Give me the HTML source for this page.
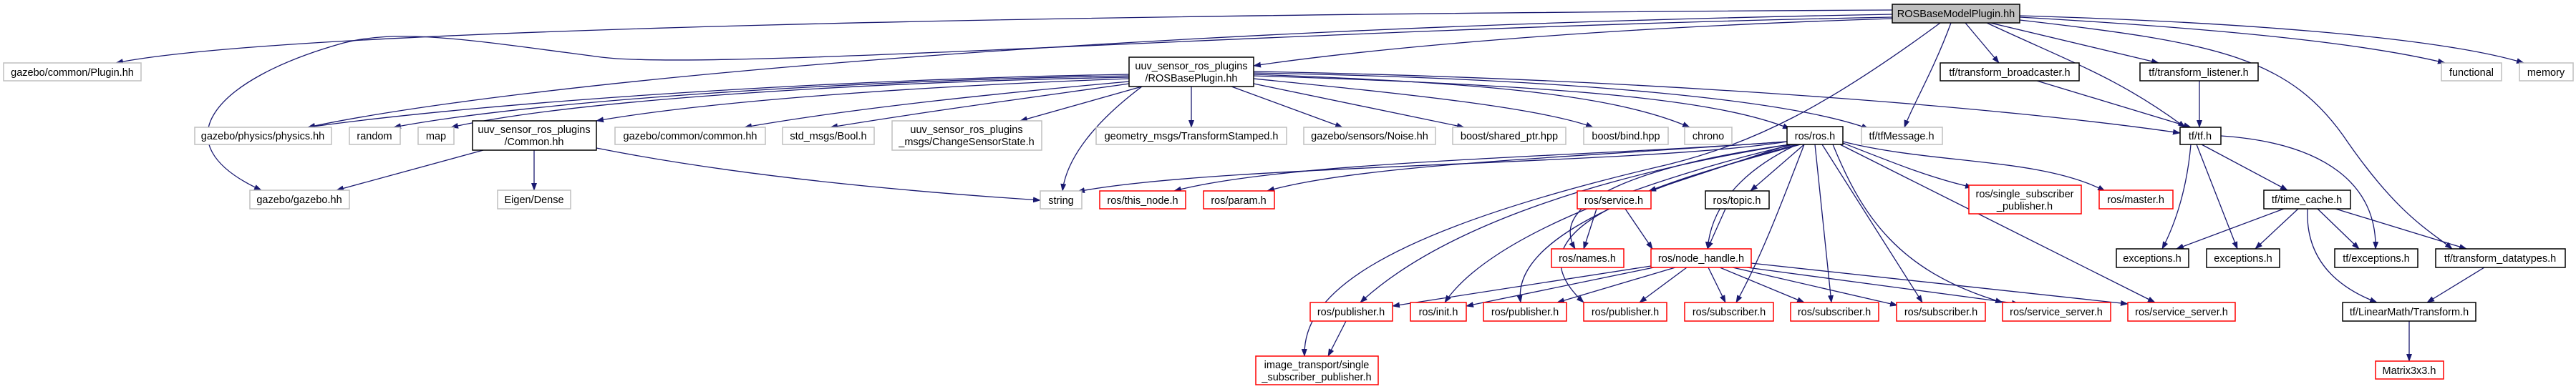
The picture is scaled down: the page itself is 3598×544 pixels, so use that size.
<!DOCTYPE html>
<html><head><meta charset="utf-8"><style>
html,body{margin:0;padding:0;background:#fff;}
svg{display:block;}
text{font-family:"Liberation Sans",sans-serif;font-size:14.5px;fill:#000;text-anchor:middle;}
.e{fill:none;stroke:#191970;stroke-width:1.3;marker-end:url(#a);}
.g{fill:#fff;stroke:#bfbfbf;stroke-width:1.5;}
.b{fill:#fff;stroke:#000;stroke-width:1.5;}
.r{fill:#fff;stroke:#ff0000;stroke-width:1.5;}
.root{fill:#bfbfbf;stroke:#000;stroke-width:1.5;}
</style></head><body>
<svg width="3598" height="544" viewBox="0 0 3598 544" xmlns="http://www.w3.org/2000/svg">
<defs><marker id="a" markerWidth="11" markerHeight="8" refX="10" refY="4" orient="auto" markerUnits="userSpaceOnUse"><path d="M0,0 L11,4 L0,8 z" fill="#191970"/></marker></defs>
<!-- edges from root -->
<path class="e" d="M2643,14 C1500,20 400,40 162,88"/>
<path class="e" d="M2643,20 C1500,40 700,120 430,178"/>
<path class="e" d="M2643,24 C1800,40 1000,100 840,80 C650,55 560,40 480,60 C300,110 220,200 365,266"/>
<path class="e" d="M2643,26 C2200,40 1900,70 1751,92"/>
<path class="e" d="M2710,32 C2550,150 2450,200 2330,230 C1900,330 1820,420 1822,498"/>
<path class="e" d="M2725,32 C2700,100 2670,150 2660,178"/>
<path class="e" d="M2745,32 L2792,88"/>
<path class="e" d="M2780,32 L3015,88"/>
<path class="e" d="M2775,32 C2900,90 2960,110 3052,178"/>
<path class="e" d="M2821,28 C3100,60 3200,80 3280,200 C3350,300 3390,320 3425,348"/>
<path class="e" d="M2821,24 C3100,40 3300,60 3415,88"/>
<path class="e" d="M2821,22 C3100,30 3400,50 3525,88"/>
<!-- ROSBasePlugin -->
<path class="e" d="M1577,104 C1200,110 700,140 430,178"/>
<path class="e" d="M1577,106 C1200,112 750,140 550,178"/>
<path class="e" d="M1577,108 C1200,115 800,140 630,178"/>
<path class="e" d="M1577,110 C1300,120 1000,140 833,169"/>
<path class="e" d="M1577,114 C1400,130 1200,150 1040,178"/>
<path class="e" d="M1577,117 C1450,135 1300,155 1160,178"/>
<path class="e" d="M1595,121 L1425,169"/>
<path class="e" d="M1664,121 L1664,178"/>
<path class="e" d="M1720,121 L1875,178"/>
<path class="e" d="M1751,117 L2045,178"/>
<path class="e" d="M1751,110 C1950,130 2150,150 2225,178"/>
<path class="e" d="M1751,104 C2050,115 2250,130 2360,178"/>
<path class="e" d="M1595,121 C1530,170 1490,220 1484,267"/>
<path class="e" d="M1751,106 C2200,120 2400,140 2500,180"/>
<path class="e" d="M1751,102 C2200,110 2500,140 2610,180"/>
<path class="e" d="M1751,100 C2300,110 2800,150 3045,186"/>
<!-- Common -->
<path class="e" d="M675,210 L470,266"/>
<path class="e" d="M746,210 L746,266"/>
<path class="e" d="M833,207 C1050,250 1300,270 1453,280"/>
<!-- ros.h -->
<path class="e" d="M2496,198 C2300,230 1700,230 1505,268"/>
<path class="e" d="M2496,198 C2200,220 1800,225 1640,267"/>
<path class="e" d="M2496,198 C2200,220 1900,230 1770,267"/>
<path class="e" d="M2500,202 L2303,267"/>
<path class="e" d="M2520,202 L2445,267"/>
<path class="e" d="M2500,202 C2300,230 2160,280 2200,348"/>
<path class="e" d="M2510,202 C2430,240 2390,290 2385,348"/>
<path class="e" d="M2500,202 C2200,250 2000,330 1900,423"/>
<path class="e" d="M2505,202 C2300,250 2080,330 2018,423"/>
<path class="e" d="M2510,202 C2300,260 2110,330 2124,423"/>
<path class="e" d="M2515,202 C2300,260 2100,320 2212,423"/>
<path class="e" d="M2520,202 C2490,280 2460,360 2425,423"/>
<path class="e" d="M2535,202 L2558,423"/>
<path class="e" d="M2545,202 L2685,423"/>
<path class="e" d="M2560,202 C2600,300 2650,380 2797,423"/>
<path class="e" d="M2570,202 L3010,423"/>
<path class="e" d="M2574,200 C2650,230 2700,250 2755,262"/>
<path class="e" d="M2574,198 C2700,230 2850,220 2940,267"/>
<!-- service/topic -->
<path class="e" d="M2230,292 L2212,348"/>
<path class="e" d="M2270,292 L2308,348"/>
<path class="e" d="M2410,292 L2385,348"/>
<!-- node_handle -->
<path class="e" d="M2306,372 L1945,428"/>
<path class="e" d="M2310,374 L2048,428"/>
<path class="e" d="M2340,374 L2175,423"/>
<path class="e" d="M2356,374 L2290,423"/>
<path class="e" d="M2386,374 L2410,423"/>
<path class="e" d="M2402,374 L2520,423"/>
<path class="e" d="M2420,374 L2650,427"/>
<path class="e" d="M2440,374 L2820,425"/>
<path class="e" d="M2446,368 L2972,425"/>
<path class="e" d="M1880,449 L1855,498"/>
<!-- tf -->
<path class="e" d="M2845,113 L3060,178"/>
<path class="e" d="M3072,113 L3072,178"/>
<path class="e" d="M3060,202 C3055,260 3040,310 3020,348"/>
<path class="e" d="M3068,202 L3125,348"/>
<path class="e" d="M3075,202 L3195,266"/>
<path class="e" d="M3102,190 C3250,200 3320,260 3318,348"/>
<path class="e" d="M3190,292 L3040,348"/>
<path class="e" d="M3210,292 L3150,348"/>
<path class="e" d="M3237,292 L3295,348"/>
<path class="e" d="M3262,292 L3445,348"/>
<path class="e" d="M3223,292 C3220,360 3260,400 3320,423"/>
<path class="e" d="M3470,374 L3390,423"/>
<path class="e" d="M3365,449 L3365,505"/>
<!-- nodes -->
<rect class="root" x="2643" y="6" width="178" height="26"/><text x="2732" y="24">ROSBaseModelPlugin.hh</text>
<rect class="g" x="5" y="88" width="192" height="25"/><text x="101" y="106">gazebo/common/Plugin.hh</text>
<rect class="b" x="1577" y="80" width="174" height="41"/><text x="1664" y="97">uuv_sensor_ros_plugins</text><text x="1664" y="114">/ROSBasePlugin.hh</text>
<rect class="b" x="2710" y="88" width="194" height="25"/><text x="2807" y="106">tf/transform_broadcaster.h</text>
<rect class="b" x="2989" y="88" width="165" height="25"/><text x="3071" y="106">tf/transform_listener.h</text>
<rect class="g" x="3410" y="88" width="84" height="25"/><text x="3452" y="106">functional</text>
<rect class="g" x="3519" y="88" width="75" height="25"/><text x="3556" y="106">memory</text>
<rect class="g" x="272" y="178" width="191" height="24"/><text x="367" y="195">gazebo/physics/physics.hh</text>
<rect class="g" x="488" y="178" width="71" height="24"/><text x="523" y="195">random</text>
<rect class="g" x="584" y="178" width="50" height="24"/><text x="609" y="195">map</text>
<rect class="b" x="660" y="169" width="173" height="41"/><text x="746" y="186">uuv_sensor_ros_plugins</text><text x="746" y="203">/Common.hh</text>
<rect class="g" x="859" y="178" width="210" height="24"/><text x="964" y="195">gazebo/common/common.hh</text>
<rect class="g" x="1093" y="178" width="128" height="24"/><text x="1157" y="195">std_msgs/Bool.h</text>
<rect class="g" x="1246" y="169" width="209" height="41"/><text x="1350" y="186">uuv_sensor_ros_plugins</text><text x="1350" y="203">_msgs/ChangeSensorState.h</text>
<rect class="g" x="1531" y="178" width="266" height="24"/><text x="1664" y="195">geometry_msgs/TransformStamped.h</text>
<rect class="g" x="1821" y="178" width="184" height="24"/><text x="1913" y="195">gazebo/sensors/Noise.hh</text>
<rect class="g" x="2029" y="178" width="158" height="24"/><text x="2108" y="195">boost/shared_ptr.hpp</text>
<rect class="g" x="2212" y="178" width="118" height="24"/><text x="2271" y="195">boost/bind.hpp</text>
<rect class="g" x="2353" y="178" width="66" height="24"/><text x="2386" y="195">chrono</text>
<rect class="b" x="2496" y="177" width="78" height="25"/><text x="2535" y="195">ros/ros.h</text>
<rect class="g" x="2600" y="178" width="113" height="24"/><text x="2656" y="195">tf/tfMessage.h</text>
<rect class="b" x="3045" y="178" width="57" height="24"/><text x="3073" y="195">tf/tf.h</text>
<rect class="g" x="349" y="266" width="139" height="26"/><text x="418" y="284">gazebo/gazebo.hh</text>
<rect class="g" x="695" y="266" width="102" height="26"/><text x="746" y="284">Eigen/Dense</text>
<rect class="g" x="1453" y="267" width="58" height="25"/><text x="1482" y="285">string</text>
<rect class="r" x="1536" y="267" width="120" height="25"/><text x="1596" y="285">ros/this_node.h</text>
<rect class="r" x="1681" y="267" width="99" height="25"/><text x="1730" y="285">ros/param.h</text>
<rect class="r" x="2203" y="267" width="103" height="25"/><text x="2254" y="285">ros/service.h</text>
<rect class="b" x="2382" y="267" width="89" height="25"/><text x="2426" y="285">ros/topic.h</text>
<rect class="r" x="2750" y="259" width="157" height="40"/><text x="2828" y="276">ros/single_subscriber</text><text x="2828" y="293">_publisher.h</text>
<rect class="r" x="2932" y="266" width="103" height="26"/><text x="2983" y="284">ros/master.h</text>
<rect class="b" x="3162" y="266" width="121" height="26"/><text x="3222" y="284">tf/time_cache.h</text>
<rect class="r" x="2167" y="348" width="101" height="26"/><text x="2217" y="366">ros/names.h</text>
<rect class="r" x="2306" y="348" width="140" height="26"/><text x="2376" y="366">ros/node_handle.h</text>
<rect class="b" x="2956" y="348" width="101" height="26"/><text x="3006" y="366">exceptions.h</text>
<rect class="b" x="3082" y="348" width="102" height="26"/><text x="3133" y="366">exceptions.h</text>
<rect class="b" x="3261" y="348" width="116" height="26"/><text x="3319" y="366">tf/exceptions.h</text>
<rect class="b" x="3402" y="348" width="181" height="26"/><text x="3492" y="366">tf/transform_datatypes.h</text>
<rect class="r" x="1830" y="423" width="115" height="26"/><text x="1887" y="441">ros/publisher.h</text>
<rect class="r" x="1970" y="423" width="78" height="26"/><text x="2009" y="441">ros/init.h</text>
<rect class="r" x="2072" y="423" width="116" height="26"/><text x="2130" y="441">ros/publisher.h</text>
<rect class="r" x="2212" y="423" width="116" height="26"/><text x="2270" y="441">ros/publisher.h</text>
<rect class="r" x="2353" y="423" width="124" height="26"/><text x="2415" y="441">ros/subscriber.h</text>
<rect class="r" x="2501" y="423" width="123" height="26"/><text x="2562" y="441">ros/subscriber.h</text>
<rect class="r" x="2649" y="423" width="124" height="26"/><text x="2711" y="441">ros/subscriber.h</text>
<rect class="r" x="2797" y="423" width="151" height="26"/><text x="2872" y="441">ros/service_server.h</text>
<rect class="r" x="2972" y="423" width="150" height="26"/><text x="3047" y="441">ros/service_server.h</text>
<rect class="b" x="3272" y="423" width="186" height="26"/><text x="3365" y="441">tf/LinearMath/Transform.h</text>
<rect class="r" x="1754" y="498" width="171" height="40"/><text x="1839" y="515">image_transport/single</text><text x="1839" y="532">_subscriber_publisher.h</text>
<rect class="r" x="3318" y="505" width="95" height="25"/><text x="3365" y="523">Matrix3x3.h</text>
</svg>
</body></html>
